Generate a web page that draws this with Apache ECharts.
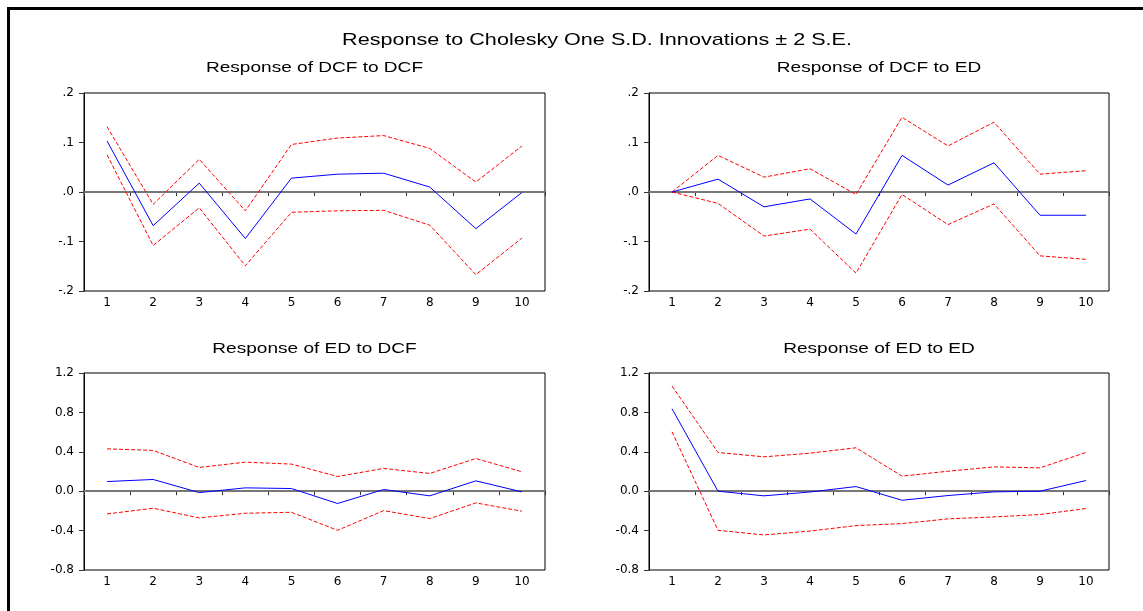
<!DOCTYPE html>
<html>
<head>
<meta charset="utf-8">
<title>Impulse responses</title>
<script src="https://cdn.jsdelivr.net/npm/echarts@6/dist/echarts.min.js"></script>
<style>
  html, body { margin: 0; padding: 0; background: #fff; }
  #main { width: 1143px; height: 611px; }
</style>
</head>
<body>
<div id="main"></div>
<script>
// periods on the x axis
var periods = ['1', '2', '3', '4', '5', '6', '7', '8', '9', '10'];

// Response of DCF to DCF
var dcfDcf   = [0.103, -0.068, 0.018, -0.094, 0.028, 0.036, 0.038, 0.010, -0.074, -0.001];
var dcfDcfUp = [0.132, -0.025, 0.066, -0.038, 0.096, 0.109, 0.114, 0.088, 0.020, 0.093];
var dcfDcfLo = [0.075, -0.108, -0.032, -0.149, -0.041, -0.038, -0.037, -0.067, -0.167, -0.093];

// Response of DCF to ED
var dcfEd   = [0, 0.026, -0.030, -0.014, -0.085, 0.074, 0.014, 0.059, -0.047, -0.047];
var dcfEdUp = [0, 0.074, 0.030, 0.047, -0.005, 0.151, 0.093, 0.141, 0.036, 0.043];
var dcfEdLo = [0, -0.023, -0.089, -0.075, -0.164, -0.005, -0.066, -0.024, -0.129, -0.136];

// Response of ED to DCF
var edDcf   = [0.098, 0.119, -0.014, 0.034, 0.027, -0.125, 0.017, -0.047, 0.105, -0.007];
var edDcfUp = [0.430, 0.414, 0.241, 0.295, 0.275, 0.149, 0.231, 0.180, 0.332, 0.197];
var edDcfLo = [-0.231, -0.173, -0.271, -0.224, -0.214, -0.397, -0.197, -0.278, -0.119, -0.203];

// Response of ED to ED
var edEd   = [0.837, 0.0, -0.047, -0.008, 0.047, -0.092, -0.044, -0.007, 0.0, 0.108];
var edEdUp = [1.068, 0.393, 0.349, 0.386, 0.441, 0.153, 0.203, 0.247, 0.237, 0.393];
var edEdLo = [0.603, -0.397, -0.444, -0.405, -0.349, -0.329, -0.281, -0.261, -0.237, -0.176];

var mainTitle = 'Response to Cholesky One S.D. Innovations \u00b1 2 S.E.';
var panelTitles = ['Response of DCF to DCF', 'Response of DCF to ED', 'Response of ED to DCF', 'Response of ED to ED'];

// y axis ranges: top row and bottom row
var topAxis = { min: -0.2, max: 0.2, interval: 0.1 };
var bottomAxis = { min: -0.8, max: 1.2, interval: 0.4 };

var grids = [
    { left: 84,  top: 93,  width: 461, height: 198 },
    { left: 649, top: 93,  width: 460, height: 198 },
    { left: 84,  top: 373, width: 461, height: 197 },
    { left: 649, top: 373, width: 460, height: 197 }
];
var panels = [
    [dcfDcf, dcfDcfUp, dcfDcfLo, topAxis],
    [dcfEd, dcfEdUp, dcfEdLo, topAxis],
    [edDcf, edDcfUp, edDcfLo, bottomAxis],
    [edEd, edEdUp, edEdLo, bottomAxis]
];

var labelFont = { fontFamily: 'DejaVu Sans', fontSize: 12, color: '#000' };

function shortLabel(v) {
    // EViews style: .2, .0, -.1
    return v.toFixed(1).replace('0.', '.');
}

var xAxes = [], yAxes = [], series = [], texts = [];

panels.forEach(function (p, i) {
    var g = grids[i];
    grids[i] = Object.assign({ show: true, borderColor: '#000', borderWidth: 1, backgroundColor: 'transparent' }, g);
    xAxes.push({
        type: 'category',
        gridIndex: i,
        data: periods,
        boundaryGap: true,
        axisLine: { show: true, lineStyle: { color: '#555', width: 2 } },
        axisTick: { show: true, inside: false, length: 4, interval: 0, lineStyle: { color: '#333' } },
        axisLabel: Object.assign({ margin: 6, interval: 0 }, labelFont),
        splitLine: { show: false }
    });
    yAxes.push({
        type: 'value',
        gridIndex: i,
        min: p[3].min,
        max: p[3].max,
        interval: p[3].interval,
        axisLine: { show: true, lineStyle: { color: '#000', width: 1 } },
        axisTick: { show: true, inside: false, length: 5, lineStyle: { color: '#333' } },
        axisLabel: Object.assign({
            margin: 10,
            showMinLabel: true,
            showMaxLabel: true,
            formatter: i < 2 ? shortLabel : function (v) { return v.toFixed(1); }
        }, labelFont),
        splitLine: { show: false }
    });
    series.push({
        type: 'line', xAxisIndex: i, yAxisIndex: i,
        data: p[0],
        symbol: 'none',
        lineStyle: { color: '#0000ff', width: 1 },
        z: 4,
        markLine: {
            silent: true,
            symbol: 'none',
            label: { show: false },
            lineStyle: { color: '#777', width: 2, type: 'solid' },
            data: [{ yAxis: 0 }],
            z: 2
        }
    });
    [p[1], p[2]].forEach(function (band) {
        series.push({
            type: 'line', xAxisIndex: i, yAxisIndex: i,
            data: band,
            symbol: 'none',
            lineStyle: { color: '#ff0000', width: 1, type: [4, 2] },
            z: 3
        });
    });
    texts.push({
        type: 'text',
        x: g.left + g.width / 2,
        y: i < 2 ? 68 : 349,
        scaleX: 1.27,
        silent: true,
        style: {
            text: panelTitles[i],
            font: '15px "Liberation Sans", Arial, sans-serif',
            fill: '#000',
            align: 'center', textAlign: 'center',
            verticalAlign: 'middle', textVerticalAlign: 'middle'
        }
    });
});

texts.push({
    type: 'text',
    x: 597,
    y: 40.5,
    scaleX: 1.27,
    silent: true,
    style: {
        text: mainTitle,
        font: '17px "Liberation Sans", Arial, sans-serif',
        fill: '#000',
        align: 'center', textAlign: 'center',
        verticalAlign: 'middle', textVerticalAlign: 'middle'
    }
});

// outer frame, cut off on the right and bottom like the picture
texts.push({
    type: 'rect',
    silent: true,
    shape: { x: 8.5, y: 8.5, width: 1400, height: 900 },
    style: { fill: 'none', stroke: '#000', lineWidth: 3 }
});

var option = {
    backgroundColor: '#fff',
    animation: false,
    grid: grids,
    xAxis: xAxes,
    yAxis: yAxes,
    series: series,
    graphic: texts
};

var myChart = echarts.init(document.getElementById('main'));
myChart.setOption(option);
</script>
</body>
</html>
